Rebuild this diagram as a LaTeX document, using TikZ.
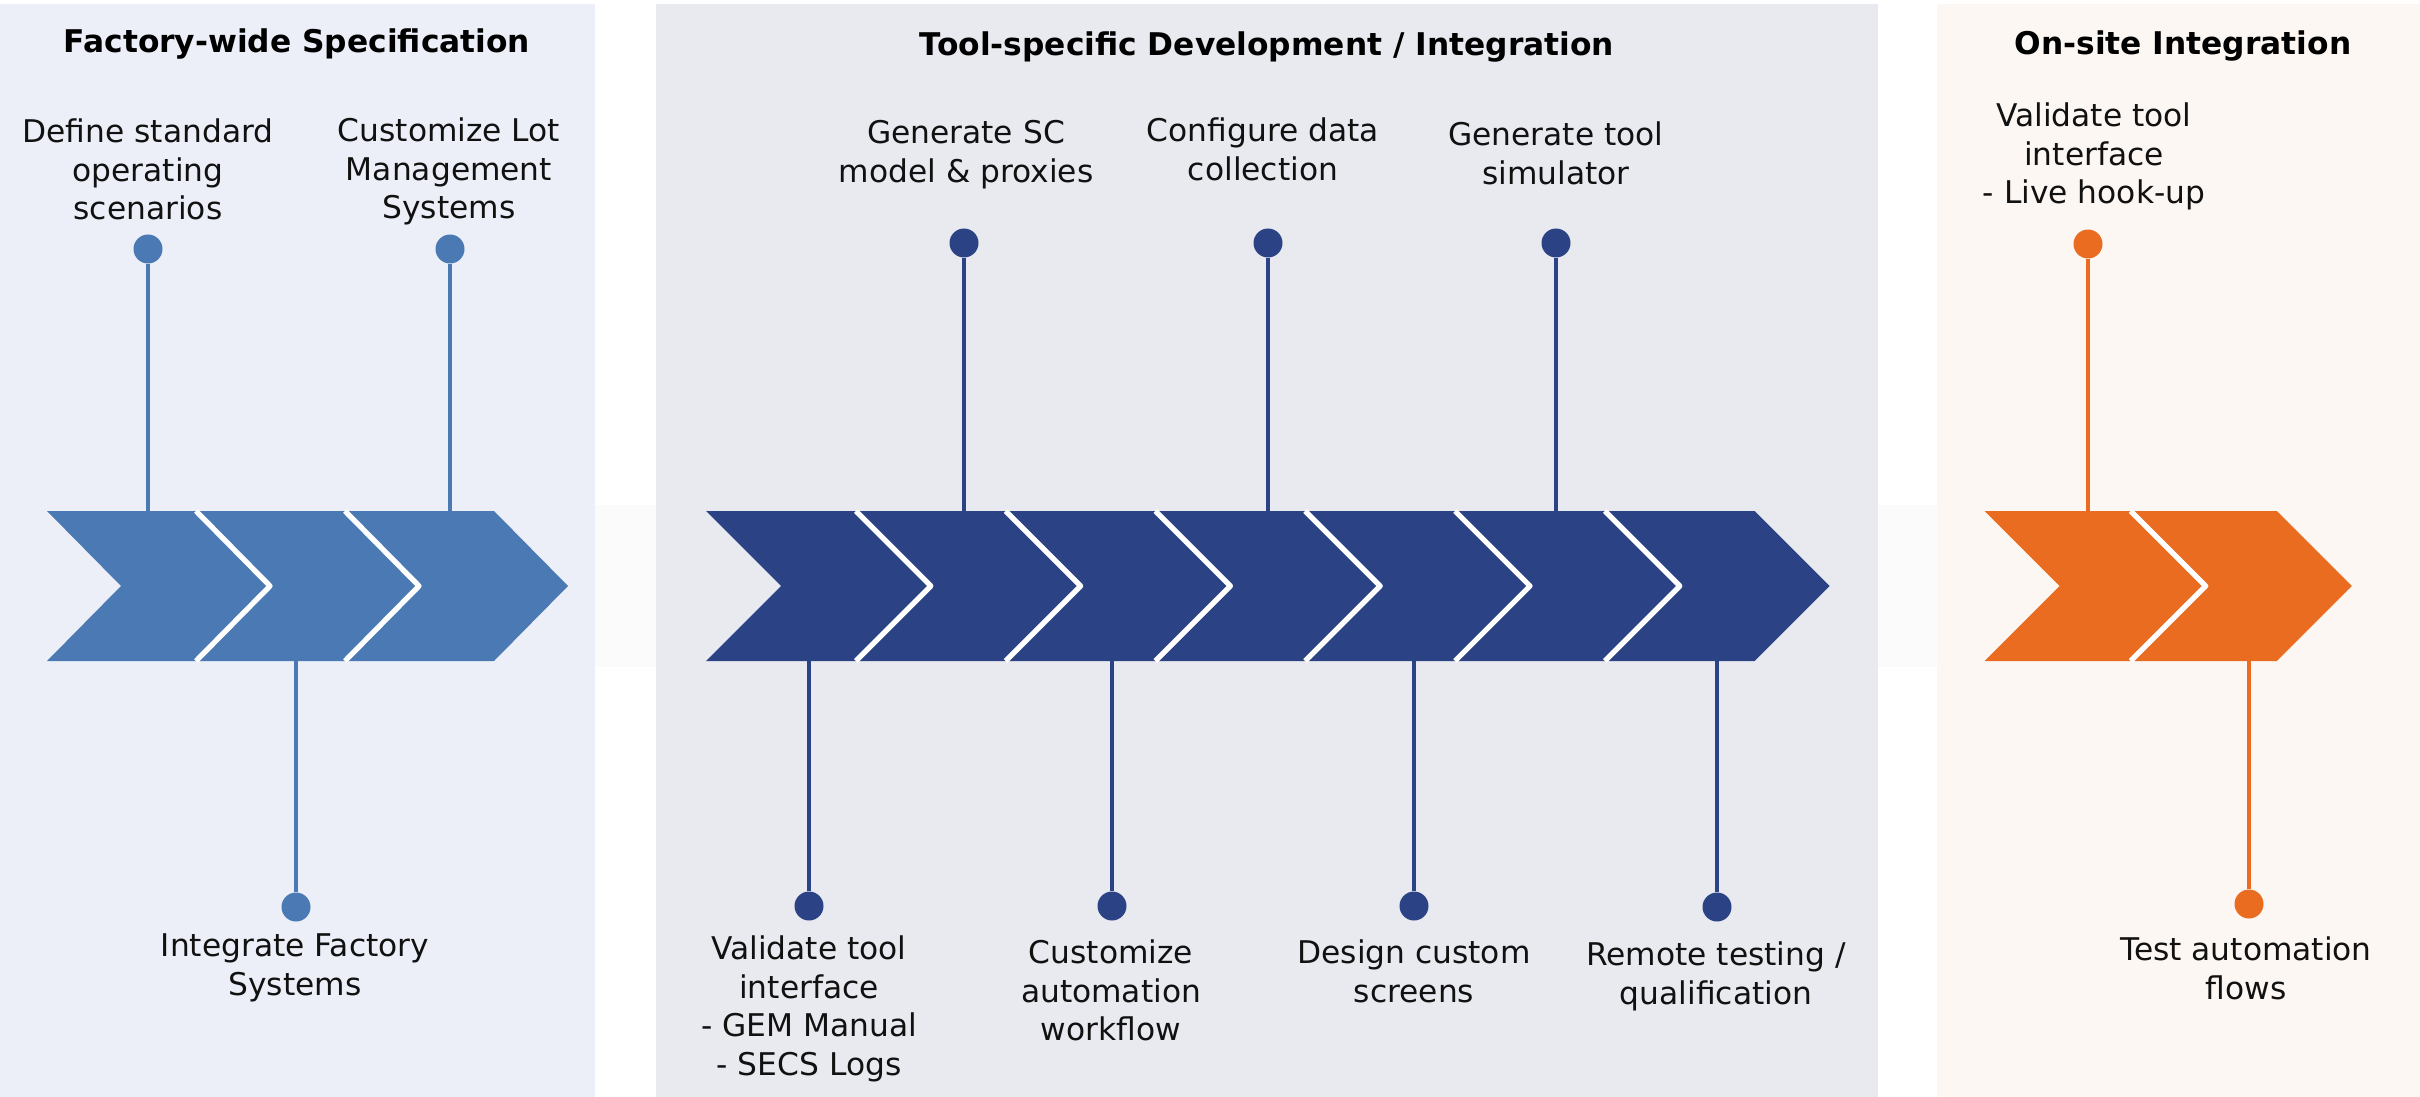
\documentclass[tikz,border=0pt]{standalone}
\usepackage{fontspec}
\setmainfont{DejaVu Sans}
\definecolor{bgL}{HTML}{ECEFF7}
\definecolor{bgM}{HTML}{E9EAF0}
\definecolor{bgR}{HTML}{FCF7F3}
\definecolor{cL}{HTML}{4A79B4}
\definecolor{cM}{HTML}{2B4385}
\definecolor{cR}{HTML}{E96C21}
\definecolor{band}{HTML}{FBFBFB}
\definecolor{txt}{HTML}{111111}
\tikzset{
  lbl/.style={font=\fontsize{8.9pt}{11pt}\selectfont, text=txt, align=center, inner sep=0pt, anchor=north},
  ttl/.style={font=\fontsize{8.9pt}{11pt}\selectfont\bfseries, text=black, align=center, inner sep=0pt, anchor=north},
  dot/.style={circle, fill=#1, minimum size=8.25pt, inner sep=0pt},
  stem/.style={draw=#1, line width=1.35pt},
  chevfill/.style={fill=#1},
  seam/.style={draw=white, line width=1.5pt, line join=round},
}
% #1 x0, #2 width, #3 depth, #4 colour
\newcommand\chevshape[4]{%
  \path[chevfill=#4] (#1,511) -- ({#1+#2},511) -- ({#1+#2+#3},586) -- ({#1+#2},661) -- (#1,661) -- ({#1+#3},586) -- cycle;}
% white seam along the notch of a chevron: #1 x0, #2 depth
\newcommand\chevseam[2]{%
  \path[seam] (#1,511) -- ({#1+#2},586) -- (#1,661);}
\begin{document}
\begin{tikzpicture}[x=0.2845pt,y=-0.2845pt]
\useasboundingbox (0,0) rectangle (2420,1097);
\fill[white] (0,0) rectangle (2420,1097);
% faint band
\fill[band] (0,505) rectangle (2420,667);
% panels
\fill[bgL] (0,4) rectangle (595,1097);
\fill[bgM] (656,4) rectangle (1878,1097);
\fill[bgR] (1937,4) rectangle (2420,1097);

% titles
\node[ttl] (tL) at (297,28) {Factory-wide Specification};
\node[ttl] (tM) at (1267,31) {Tool-specific Development / Integration};
\node[ttl] (tR) at (2183,30) {On-site Integration};

% ---------- left panel ----------
\node[dot=cL] (dL1) at (148,249) {};
\node[dot=cL] (dL2) at (450,249) {};
\node[dot=cL] (dL3) at (296,907) {};
\coordinate (aL1) at (148,511);
\coordinate (aL2) at (450,511);
\coordinate (aL3) at (296,661);
\draw[stem=cL] (dL1) -- (aL1);
\draw[stem=cL] (dL2) -- (aL2);
\draw[stem=cL] (aL3) -- (dL3);
\foreach \i in {0,1,2} {\chevshape{47+\i*149}{149}{74}{cL}}
\foreach \i in {1,2} {\chevseam{47+\i*149}{74}}
\node[lbl] (xL1) at (148,118) {Define standard\\operating\\scenarios};
\node[lbl] (xL2) at (449,117) {Customize Lot\\Management\\Systems};
\node[lbl] (xL3) at (295,933) {Integrate Factory\\Systems};

% ---------- middle panel ----------
\node[dot=cM] (dM1) at (964,243) {};
\node[dot=cM] (dM2) at (1268,243) {};
\node[dot=cM] (dM3) at (1556,243) {};
\node[dot=cM] (dM4) at (809,906) {};
\node[dot=cM] (dM5) at (1112,906) {};
\node[dot=cM] (dM6) at (1414,906) {};
\node[dot=cM] (dM7) at (1717,907) {};
\coordinate (aM1) at (964,511);
\coordinate (aM2) at (1268,511);
\coordinate (aM3) at (1556,511);
\coordinate (aM4) at (809,661);
\coordinate (aM5) at (1112,661);
\coordinate (aM6) at (1414,661);
\coordinate (aM7) at (1717,661);
\draw[stem=cM] (dM1) -- (aM1);
\draw[stem=cM] (dM2) -- (aM2);
\draw[stem=cM] (dM3) -- (aM3);
\draw[stem=cM] (aM4) -- (dM4);
\draw[stem=cM] (aM5) -- (dM5);
\draw[stem=cM] (aM6) -- (dM6);
\draw[stem=cM] (aM7) -- (dM7);
\foreach \i in {0,...,6} {\chevshape{706+\i*149.8}{149.8}{75}{cM}}
\foreach \i in {1,...,6} {\chevseam{706+\i*149.8}{75}}
\node[lbl] (xM1) at (966,120) {Generate SC\\model \& proxies};
\node[lbl] (xM2) at (1263,117) {Configure data\\collection};
\node[lbl] (xM3) at (1556,121) {Generate tool\\simulator};
\node[lbl] (xM4) at (809,935) {Validate tool\\interface\\- GEM Manual\\- SECS Logs};
\node[lbl] (xM5) at (1111,939) {Customize\\automation\\workflow};
\node[lbl] (xM6) at (1414,939) {Design custom\\screens};
\node[lbl] (xM7) at (1716,941) {Remote testing /\\qualification};

% ---------- right panel ----------
\node[dot=cR] (dR1) at (2088,244) {};
\node[dot=cR] (dR2) at (2249,904) {};
\coordinate (aR1) at (2088,511);
\coordinate (aR2) at (2249,661);
\draw[stem=cR] (dR1) -- (aR1);
\draw[stem=cR] (aR2) -- (dR2);
\foreach \i in {0,1} {\chevshape{1984.5+\i*146.2}{146.2}{75}{cR}}
\foreach \i in {1} {\chevseam{1984.5+\i*146.2}{75}}
\node[lbl] (xR1) at (2094,102) {Validate tool\\interface\\- Live hook-up};
\node[lbl] (xR2) at (2246,936) {Test automation\\flows};
\end{tikzpicture}
\end{document}
